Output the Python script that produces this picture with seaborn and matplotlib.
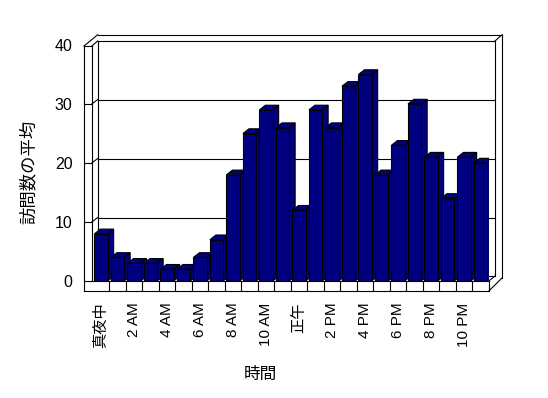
# 時間ごとの訪問数の平均 (疑似3D棒グラフ)
import seaborn as sns
import matplotlib.pyplot as plt
import matplotlib.transforms as mtransforms
from matplotlib.lines import Line2D
from matplotlib.patches import Polygon

hours = [str(h) for h in range(24)]
visits = [8, 4, 3, 3, 2, 2, 4, 7, 18, 25, 29, 26, 12, 29, 26, 33, 35, 18, 23, 30, 21, 14, 21, 20]
tick_pos = list(range(0, 24, 2))
tick_labels = ["真夜中", "2 AM", "4 AM", "6 AM", "8 AM", "10 AM",
               "正午", "2 PM", "4 PM", "6 PM", "8 PM", "10 PM"]
y_ticks = [0, 10, 20, 30, 40]
grid_vals = [10, 20, 30]

plt.rcParams["font.family"] = ["Liberation Sans", "Noto Sans CJK JP"]

W, H = 548, 398
fig = plt.figure(figsize=(W / 100, H / 100), dpi=100)
ax = fig.add_axes([92.8 / W, (H - 281) / H, 396 / W, 236 / H])

sns.barplot(x=hours, y=visits, order=hours, color="#000080", saturation=1,
            width=0.8, edgecolor="black", linewidth=0.8, ax=ax)
ax.set_xlim(-0.5, 23.5)
ax.set_ylim(0, 40)

# 奥行き (側面と上面)
DX, DY = 6 / 16.5, 4.7 / 5.9
for i, p in enumerate(ax.patches):
    x0, w, h = p.get_x(), p.get_width(), p.get_height()
    p.set_zorder(3 + i * 0.01 + 0.005)
    side = Polygon([(x0 + w, 0), (x0 + w, h), (x0 + w + DX, h + DY), (x0 + w + DX, DY)],
                   closed=True, facecolor="#000080", edgecolor="black", lw=0.8,
                   zorder=3 + i * 0.01)
    top = Polygon([(x0, h), (x0 + w, h), (x0 + w + DX, h + DY), (x0 + DX, h + DY)],
                  closed=True, facecolor="#000080", edgecolor="black", lw=0.8,
                  zorder=3 + i * 0.01)
    ax.add_patch(side)
    ax.add_patch(top)

for s in ax.spines.values():
    s.set_visible(False)

ax.set_yticks(y_ticks)
ax.set_yticklabels([str(v) for v in y_ticks])
ax.tick_params(axis="y", length=0, pad=14.5, labelsize=11.5)
ax.set_xticks(tick_pos)
ax.set_xticklabels(tick_labels, rotation=90)
ax.tick_params(axis="x", length=0, pad=15.5, labelsize=11)

ax.set_ylabel("訪問数の平均", fontsize=12.5, va="center")
ax.yaxis.set_label_coords(-0.163, 0.462)
ax.set_xlabel("時間", fontsize=12, va="center")
ax.xaxis.set_label_coords(0.422, -0.398)

# 枠 (壁と床)
X0, X1, Y0, Y1 = -0.5, 23.5, 0, 40
ident = mtransforms.IdentityTransform()


def pt(x, y, dx=0, dy=0):
    X, Y = ax.transData.transform((x, y))
    return X + dx, Y + dy


def seg(p, q, z=1):
    ax.add_line(Line2D([p[0], q[0]], [p[1], q[1]], transform=ident,
                       color="black", lw=0.8, clip_on=False, zorder=z))


fo_top = pt(X0, Y1, -8.8, -1)
fi_top = pt(X0, Y1, -1, -1)
fo_bot = pt(X0, Y0, -8.8, -10)
fi_bot = pt(X0, Y0, -1, 0)
bi_tl = pt(X0, Y1, 4.9, 4)
bo_tl = pt(X0, Y1, 4.9, 10.3)
bi_tr = pt(X1, Y1, 6.2, 4)
bo_tr = pt(X1, Y1, 13.2, 10.3)
bi_bl = pt(X0, Y0, 4.9, 5)
bi_br = pt(X1, Y0, 6.2, 5)
bo_br = pt(X1, Y0, 13.2, 3)
fr_top = pt(X1, Y0)
fr_bot = pt(X1, Y0, 0, -10)

seg(fo_top, fo_bot, 5)
seg(fi_top, fi_bot, 5)
seg(fo_top, fi_top, 5)
seg(fo_top, bo_tl)
seg(fi_top, bi_tl)
seg(bo_tl, bo_tr)
seg(bi_tl, bi_tr)
seg(bi_tl, bi_bl)
seg(bi_tr, bi_br)
seg(bo_tr, bo_br)
seg(bi_tr, bo_tr)
seg(bi_bl, bi_br)
seg(fo_bot, fr_bot, 5)
seg(fi_bot, fr_top, 5)
seg(fr_top, fr_bot, 5)
seg(fr_bot, bo_br, 5)
seg(fr_top, bi_br, 5)

for v in grid_vals:
    seg(pt(X0, v, 4.9, 4.5), pt(X1, v, 6.2, 4.5))
    seg(pt(X0, v, -1, 0), pt(X0, v, 4.9, 4.5))
for v in [0] + grid_vals:
    seg(pt(X0, v, -8.8, 0), pt(X0, v, -1, 0), 5)

for k in range(1, len(hours)):
    seg(pt(X0 + k, Y0), pt(X0 + k, Y0, 0, -10), 5)

fig.savefig("out.png", dpi=100)
